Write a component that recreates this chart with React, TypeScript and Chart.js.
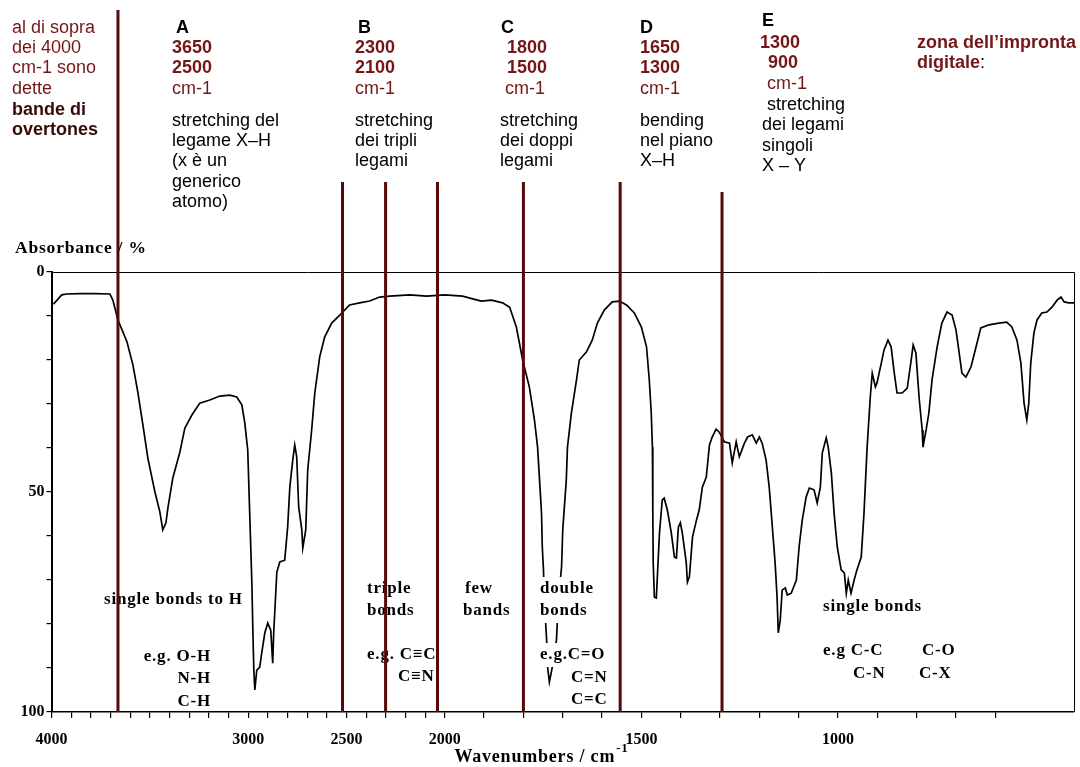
import React, { useEffect, useRef } from "react";
import { Chart, registerables } from "chart.js";

Chart.register(...registerables);

// ---------- DATA (wavenumber cm-1, absorbance %) ----------
const xhStretch: [number, number][] = [
  [3990, 7.3], [3948, 5.2], [3923, 5.0], [3855, 4.9], [3779, 4.9], [3703, 5.0], [3688, 6.4], [3662, 10.9],
  [3637, 13.6], [3616, 15.9], [3586, 21.1], [3561, 27.3], [3535, 34.8], [3510, 42.3], [3474, 50], [3449, 54.5],
  [3434, 58.6], [3418, 57], [3408, 53.6], [3383, 46.8], [3347, 40.9], [3322, 35.5], [3286, 32.5], [3246, 29.8],
  [3195, 29.1], [3144, 28.2], [3093, 28], [3058, 28.4], [3032, 30.2], [3017, 34.3], [3002, 40.5], [2992, 54.8],
  [2981, 70.7], [2976, 81.4], [2971, 90.5], [2966, 95], [2956, 90.5], [2941, 89.8], [2931, 86.6], [2915, 82],
  [2900, 79.8], [2885, 81.4], [2875, 88.9], [2870, 82], [2854, 68.2], [2839, 65.9], [2814, 65.5], [2799, 58],
  [2788, 48.9], [2773, 42.7], [2763, 39.3], [2753, 42], [2743, 53.4], [2727, 58.6], [2722, 62.7], [2707, 58.6],
  [2697, 45], [2677, 35.9], [2661, 27.5], [2636, 19.3], [2611, 14.8], [2575, 11.6], [2534, 9.8],
];

const tripleRegion: [number, number][] = [
  [2484, 7.5], [2433, 7], [2382, 6.6], [2331, 5.7], [2280, 5.5], [2179, 5.2], [2092, 5.5], [2000, 5.2],
  [1955, 5.5], [1929, 6.1], [1907, 6.6], [1881, 6.4], [1853, 7], [1835, 8], [1818, 12.5], [1802, 20],
];

const doubleRegion: [number, number][] = [
  [1785, 26.1], [1772, 33.6], [1764, 39.8], [1759, 47.3], [1754, 54.8], [1752, 62.5], [1749, 67.7], [1747, 74.5],
  [1741, 83.6], [1739, 89.5], [1734, 93.2], [1726, 89.5], [1716, 83.6], [1711, 74.5], [1703, 67], [1700, 58.6],
  [1691, 47.3], [1688, 39.8], [1678, 32], [1665, 24.5], [1658, 20], [1640, 18.2], [1625, 15.5], [1612, 11.6],
  [1594, 8.6], [1574, 6.8], [1556, 6.6],
];

const bendingRegion: [number, number][] = [
  [1538, 7.5], [1518, 9.3], [1500, 12.5], [1487, 17], [1480, 24.5], [1475, 32], [1472, 39.8], [1471, 54.8],
  [1470, 66], [1467, 73.9], [1462, 74.1], [1459, 68.4], [1454, 59.3], [1447, 51.8], [1442, 51.4], [1434, 54.1],
  [1424, 59.3], [1416, 64.8], [1411, 65], [1406, 58], [1401, 57], [1396, 59.3], [1386, 66], [1383, 70.5],
  [1378, 69.3], [1370, 60.2], [1360, 56.4], [1353, 54.1], [1345, 48.9], [1335, 46.6], [1327, 39.3], [1320, 37.5],
  [1310, 35.7], [1302, 36.4],
];

const fingerprint: [number, number][] = [
  [1289, 38.6], [1276, 38.9], [1269, 43.4], [1259, 38.6], [1251, 42], [1238, 38.9], [1230, 37.5], [1218, 37],
  [1208, 38.9], [1200, 37.5], [1193, 38.9], [1183, 42.7], [1175, 48.9], [1167, 58], [1160, 66.1], [1155, 73.9],
  [1152, 82], [1147, 79.1], [1142, 72.3], [1134, 71.8], [1129, 73.4], [1119, 73], [1106, 70], [1099, 62.5],
  [1091, 56.4], [1081, 51.1], [1073, 49.1], [1061, 49.5], [1053, 52.5], [1045, 48.9], [1040, 41.1], [1030, 37.7],
  [1025, 39.8], [1017, 45.7], [1010, 54.8], [1002, 62.5], [992, 67.7], [984, 68.4], [979, 73], [974, 70],
  [967, 73], [959, 70], [952, 67.7], [941, 64.8], [934, 54.8], [926, 39.8], [918, 28.4], [913, 23],
  [905, 26.1], [901, 25.2], [890, 20.7], [883, 17.7], [873, 15.5], [865, 17], [857, 23], [850, 27.5],
  [837, 27.5], [824, 26.4], [814, 20], [809, 16.6], [802, 18.4], [794, 28.4], [786, 35.9], [784, 39.8],
  [776, 35.9], [769, 32], [761, 24.5], [748, 17], [736, 11.6], [723, 9.1], [710, 9.8], [700, 13.2],
  [692, 18.4], [685, 23], [675, 23.9], [662, 21.6], [649, 17], [637, 12.7], [616, 12], [591, 11.6],
  [571, 11.4], [558, 12.5], [545, 15.5], [535, 20.7], [527, 29.8], [520, 33.6], [515, 29.8], [510, 20.7],
  [502, 13.9], [494, 10.9], [482, 9.3], [469, 9.1], [456, 8], [443, 6.4], [433, 5.7], [425, 6.8],
  [413, 7], [400, 7],
];

// region boundary markers (cm-1)
const markerWavenumbers = [3662, 2520, 2301, 2037, 1800, 1554, 1295];
// x tick labels shown
const labelledXTicks = [4000, 3000, 2500, 2000, 1500, 1000];
// y ticks
const yTicks = [0, 10, 20, 30, 40, 50, 60, 70, 80, 90, 100];
const labelledYTicks = [0, 50, 100];

// ---------- axis transform: scale doubles below 2000 cm-1 ----------
const toPos = (w: number) => (w >= 2000 ? (4000 - w) / 2 : 1000 + (2000 - w));
const fromPos = (p: number) => (p <= 1000 ? 4000 - 2 * p : 2000 - (p - 1000));

const xTickWavenumbers: number[] = [];
for (let w = 4000; w >= 600; w -= 100) xTickWavenumbers.push(w);

// ---------- styles / layout ----------
const SANS = '"Liberation Sans", Arial, Helvetica, sans-serif';
const SERIF = '"Liberation Serif", "Times New Roman", serif';
const RED = "#741616";
const DARK = "#3a0a0a";
const MARKER = "#560909";
const markerTops = [10, 182, 182, 182, 182, 182, 192];

type Txt = { t: string; x: number; y: number; bold?: boolean; color?: string };

const header: Txt[] = [
  { t: "al di sopra", x: 12, y: 28, color: RED },
  { t: "dei 4000", x: 12, y: 48, color: RED },
  { t: "cm-1 sono", x: 12, y: 68, color: RED },
  { t: "dette", x: 12, y: 89, color: RED },
  { t: "bande di", x: 12, y: 110, bold: true, color: DARK },
  { t: "overtones", x: 12, y: 130, bold: true, color: DARK },

  { t: "A", x: 176, y: 28, bold: true },
  { t: "3650", x: 172, y: 48, bold: true, color: RED },
  { t: "2500", x: 172, y: 68, bold: true, color: RED },
  { t: "cm-1", x: 172, y: 89, color: RED },
  { t: "stretching del", x: 172, y: 121 },
  { t: "legame X–H", x: 172, y: 141 },
  { t: "(x è un", x: 172, y: 161 },
  { t: "generico", x: 172, y: 182 },
  { t: "atomo)", x: 172, y: 202 },

  { t: "B", x: 358, y: 28, bold: true },
  { t: "2300", x: 355, y: 48, bold: true, color: RED },
  { t: "2100", x: 355, y: 68, bold: true, color: RED },
  { t: "cm-1", x: 355, y: 89, color: RED },
  { t: "stretching", x: 355, y: 121 },
  { t: "dei tripli", x: 355, y: 141 },
  { t: "legami", x: 355, y: 161 },

  { t: "C", x: 501, y: 28, bold: true },
  { t: "1800", x: 507, y: 48, bold: true, color: RED },
  { t: "1500", x: 507, y: 68, bold: true, color: RED },
  { t: "cm-1", x: 505, y: 89, color: RED },
  { t: "stretching", x: 500, y: 121 },
  { t: "dei doppi", x: 500, y: 141 },
  { t: "legami", x: 500, y: 161 },

  { t: "D", x: 640, y: 28, bold: true },
  { t: "1650", x: 640, y: 48, bold: true, color: RED },
  { t: "1300", x: 640, y: 68, bold: true, color: RED },
  { t: "cm-1", x: 640, y: 89, color: RED },
  { t: "bending", x: 640, y: 121 },
  { t: "nel piano", x: 640, y: 141 },
  { t: "X–H", x: 640, y: 161 },

  { t: "E", x: 762, y: 21, bold: true },
  { t: "1300", x: 760, y: 43, bold: true, color: RED },
  { t: "900", x: 768, y: 63, bold: true, color: RED },
  { t: "cm-1", x: 767, y: 84, color: RED },
  { t: "stretching", x: 767, y: 105 },
  { t: "dei legami", x: 762, y: 125 },
  { t: "singoli", x: 762, y: 146 },
  { t: "X – Y", x: 762, y: 166 },

  { t: "zona dell’impronta", x: 917, y: 43, bold: true, color: RED },
  { t: "digitale", x: 917, y: 63, bold: true, color: RED },
];

type Ann = { t: string; x: number; y: number; right?: boolean; mask?: boolean };
const annotations: Ann[] = [
  { t: "single bonds to H", x: 104, y: 600 },
  { t: "e.g. O-H", x: 211, y: 657, right: true },
  { t: "N-H", x: 211, y: 679, right: true },
  { t: "C-H", x: 211, y: 702, right: true },
  { t: "triple", x: 367, y: 589 },
  { t: "bonds", x: 367, y: 611 },
  { t: "e.g. C≡C", x: 367, y: 655 },
  { t: "C≡N", x: 398, y: 677 },
  { t: "few", x: 465, y: 589 },
  { t: "bands", x: 463, y: 611 },
  { t: "double", x: 540, y: 589, mask: true },
  { t: "bonds", x: 540, y: 611, mask: true },
  { t: "e.g.C=O", x: 540, y: 655, mask: true },
  { t: "C=N", x: 571, y: 678 },
  { t: "C=C", x: 571, y: 700 },
  { t: "single bonds", x: 823, y: 607 },
  { t: "e.g C-C", x: 823, y: 651 },
  { t: "C-O", x: 922, y: 651 },
  { t: "C-N", x: 853, y: 674 },
  { t: "C-X", x: 919, y: 674 },
];

const overlayPlugin = {
  id: "overlay",
  afterDatasetsDraw(chart: any) {
    const ctx: CanvasRenderingContext2D = chart.ctx;
    ctx.save();
    ctx.font = `bold 17px ${SERIF}`;
    (ctx as any).letterSpacing = "0.8px";
    ctx.textBaseline = "middle";
    for (const a of annotations) {
      const w = ctx.measureText(a.t).width;
      const x0 = a.right ? a.x - w : a.x;
      if (a.mask) {
        ctx.fillStyle = "#fff";
        ctx.fillRect(x0 - 2, a.y - 12, w + 4, 24);
      }
      ctx.fillStyle = "#000";
      ctx.fillText(a.t, x0, a.y);
    }
    ctx.restore();
  },
  afterDraw(chart: any) {
    const ctx: CanvasRenderingContext2D = chart.ctx;
    const area = chart.chartArea;
    const xs = chart.scales.x;
    ctx.save();
    // frame (top + right)
    ctx.strokeStyle = "#000";
    ctx.lineWidth = 1;
    ctx.beginPath();
    ctx.moveTo(area.left, area.top + 0.5);
    ctx.lineTo(area.right + 0.5, area.top + 0.5);
    ctx.lineTo(area.right + 0.5, area.bottom);
    ctx.stroke();

    // header texts
    ctx.textBaseline = "middle";
    for (const h of header) {
      ctx.font = `${h.bold ? "bold " : ""}18px ${SANS}`;
      ctx.fillStyle = h.color || "#000";
      ctx.fillText(h.t, h.x, h.y);
    }
    // colon after "digitale"
    ctx.font = `bold 18px ${SANS}`;
    const dw = ctx.measureText("digitale").width;
    ctx.font = `18px ${SANS}`;
    ctx.fillStyle = "#000";
    ctx.fillText(":", 917 + dw, 63);

    // y-axis title
    ctx.font = `bold 17.5px ${SERIF}`;
    (ctx as any).letterSpacing = "0.8px";
    ctx.fillStyle = "#000";
    ctx.fillText("Absorbance / %", 15, 248);

    // x-axis title with superscript
    const main = "Wavenumbers / cm";
    ctx.font = `bold 18px ${SERIF}`;
    const mw = ctx.measureText(main).width;
    ctx.font = `bold 13px ${SERIF}`;
    const sw = ctx.measureText("-1").width;
    const startX = 541 - (mw + sw) / 2;
    ctx.font = `bold 18px ${SERIF}`;
    ctx.fillText(main, startX, 757);
    ctx.font = `bold 13px ${SERIF}`;
    ctx.fillText("-1", startX + mw + 1, 749);
    (ctx as any).letterSpacing = "0px";

    // region markers
    ctx.strokeStyle = MARKER;
    ctx.lineWidth = 3;
    markerWavenumbers.forEach((w, i) => {
      const x = xs.getPixelForValue(toPos(w));
      ctx.beginPath();
      ctx.moveTo(x, markerTops[i]);
      ctx.lineTo(x, area.bottom);
      ctx.stroke();
    });
    ctx.restore();
  },
};

export default function App() {
  const ref = useRef<HTMLCanvasElement | null>(null);
  useEffect(() => {
    if (!ref.current) return;
    const spectrum = [...xhStretch, ...tripleRegion, ...doubleRegion, ...bendingRegion, ...fingerprint];
    const chart = new Chart(ref.current, {
      type: "line",
      data: {
        datasets: [
          {
            data: spectrum.map(([w, a]) => ({ x: toPos(w), y: a })),
            borderColor: "#000",
            borderWidth: 1.7,
            pointRadius: 0,
            tension: 0,
            fill: false,
          },
        ],
      },
      options: {
        animation: false,
        responsive: false,
        devicePixelRatio: 1,
        layout: { padding: { left: 0, right: 6, top: 272, bottom: 0 } },
        plugins: { legend: { display: false }, tooltip: { enabled: false } },
        scales: {
          x: {
            type: "linear",
            min: 0,
            max: 2600,
            afterBuildTicks: (s: any) => {
              s.ticks = xTickWavenumbers.map((w) => ({ value: toPos(w) }));
            },
            afterFit: (s: any) => {
              s.height = 55;
            },
            ticks: {
              autoSkip: false,
              maxRotation: 0,
              padding: 12,
              color: "#000",
              font: { family: SERIF, size: 16, weight: "bold" },
              callback: (v: any) => {
                const w = Math.round(fromPos(Number(v)));
                return labelledXTicks.includes(w) ? String(w) : "";
              },
            },
            grid: { drawOnChartArea: false, tickLength: 6, color: "#000", lineWidth: 1.2 },
            border: { color: "#000", width: 1.5 },
          },
          y: {
            type: "linear",
            min: 0,
            max: 100,
            reverse: true,
            afterBuildTicks: (s: any) => {
              s.ticks = yTicks.map((v) => ({ value: v }));
            },
            afterFit: (s: any) => {
              s.width = 51.5;
            },
            ticks: {
              padding: 2,
              color: "#000",
              font: { family: SERIF, size: 16, weight: "bold" },
              callback: (v: any) => (labelledYTicks.includes(Number(v)) ? String(v) : ""),
            },
            grid: { drawOnChartArea: false, tickLength: 5, color: "#000", lineWidth: 1.2 },
            border: { color: "#000", width: 2 },
          },
        },
      },
      plugins: [overlayPlugin],
    } as any);
    return () => chart.destroy();
  }, []);

  return (
    <div style={{ position: "absolute", left: 0, top: 0, width: 1080, height: 767, background: "#fff" }}>
      <canvas ref={ref} width={1080} height={767} style={{ display: "block" }} />
    </div>
  );
}
